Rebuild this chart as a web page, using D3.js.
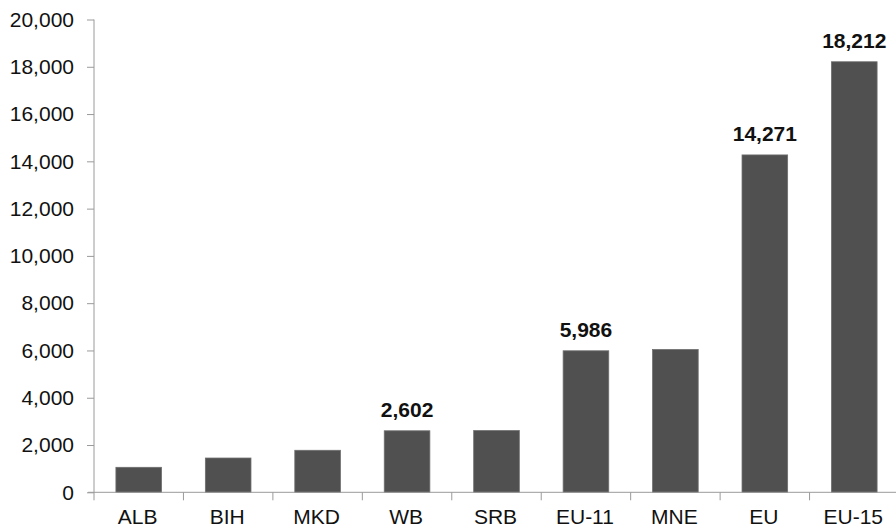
<!DOCTYPE html>
<html><head><meta charset="utf-8">
<script src="https://cdn.jsdelivr.net/npm/d3@7"></script>
<style>body{margin:0;background:#fff}svg{display:block}</style>
</head><body>
<svg id="c" width="896" height="530"></svg>
<script>
const categories = ["ALB","BIH","MKD","WB","SRB","EU-11","MNE","EU","EU-15"];
const values = [1057,1450,1777,2602,2610,5986,6040,14271,18212];
const labeled = ["WB","EU-11","EU","EU-15"];
const yTicks = [0,2000,4000,6000,8000,10000,12000,14000,16000,18000,20000];

const svg = d3.select("#c");
const font = "'Liberation Sans', Arial, sans-serif";
const x = d3.scaleBand().domain(categories).range([94, 899]).paddingInner(0.49).paddingOuter(0.245);
const y = d3.scaleLinear().domain([0,20000]).range([492.3, 19.5]);
const fmt = d3.format(",");

// bars
svg.append("g").selectAll("rect").data(categories).join("rect")
  .attr("x", d => x(d)).attr("width", x.bandwidth())
  .attr("y", (d,i) => y(values[i])).attr("height", (d,i) => y(0) - y(values[i]))
  .attr("fill", "#505050").attr("stroke", "#6e6e6e").attr("stroke-width", 0.8);

// value labels
svg.append("g").selectAll("text").data(categories.filter(c => labeled.includes(c))).join("text")
  .attr("x", d => x(d) + x.bandwidth()/2)
  .attr("y", d => y(values[categories.indexOf(d)]) - 14)
  .attr("text-anchor", "middle").attr("font-family", font).attr("font-weight", "bold")
  .attr("font-size", 21).attr("fill", "#111")
  .text(d => fmt(values[categories.indexOf(d)]));

// y axis
const yAxis = svg.append("g").attr("transform", "translate(94,0)")
  .call(d3.axisLeft(y).tickValues(yTicks).tickFormat(fmt).tickSize(7).tickPadding(13));
yAxis.selectAll("path,line").attr("stroke", "#9a9a9a");
yAxis.select("path").attr("d", `M0,${y(20000)}V${y(0)}`);
yAxis.selectAll("text").attr("font-family", font).attr("font-size", 21).attr("fill", "#111");

// x axis
const xg = svg.append("g").attr("transform", `translate(0,${y(0)})`);
xg.append("line").attr("x1", 88).attr("x2", 899).attr("y1", 0).attr("y2", 0).attr("stroke", "#9a9a9a");
const bounds = categories.map(c => x(c) - x.step()*x.paddingInner()/2);
xg.selectAll("line.t").data(bounds).join("line").attr("class","t")
  .attr("x1", d => d).attr("x2", d => d).attr("y1", 0).attr("y2", 8).attr("stroke", "#9a9a9a");
xg.selectAll("text").data(categories).join("text")
  .attr("x", d => x(d) + x.bandwidth()/2 - 1)
  .attr("y", 524.5 - 492.3)
  .attr("text-anchor", "middle").attr("font-family", font).attr("font-size", 21).attr("fill", "#111")
  .text(d => d);
</script>
</body></html>
